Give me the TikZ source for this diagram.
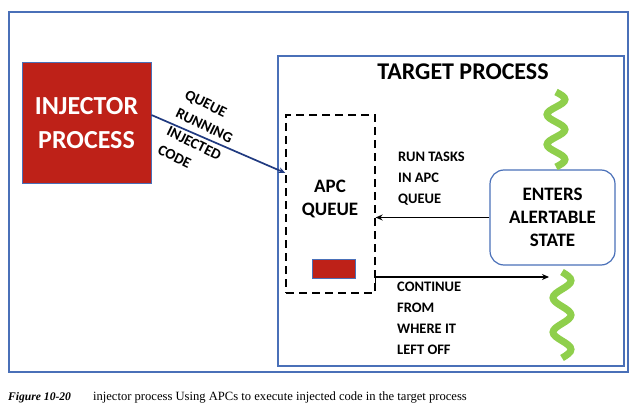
\documentclass[tikz,border=0pt]{standalone}
\usepackage{fontspec}
\setmainfont{Liberation Serif}
\newfontfamily\calib{Carlito}
\usetikzlibrary{arrows.meta}

\definecolor{frameblue}{HTML}{4A70B8}
\definecolor{injred}{HTML}{BE2118}
\definecolor{navyarrow}{HTML}{203A80}
\definecolor{wavegreen}{HTML}{8FCF4C}

\tikzset{
	bigtext/.style={font=\calib\bfseries\fontsize{19}{23}\selectfont, align=center},
	smalltext/.style={font=\calib\bfseries\fontsize{14.5}{21}\selectfont, align=left, inner sep=0},
	squiggle/.style={wavegreen, line width=7pt, line cap=butt},
	flow/.style={-{Stealth[length=7pt,width=6pt]}, line width=1.3pt},
}

\begin{document}
\begin{tikzpicture}[x=1pt, y=-1pt]
	\useasboundingbox (0,0) rectangle (637,417);
	
	% Outer frame and target process
	\draw [frameblue, line width=1.2pt] (9,12) rectangle (628,372);
	\node (target) at (451,211)
	      [ minimum width=346pt
	      , minimum height=310pt
	      , draw=frameblue
	      , line width=1.2pt
	      , rectangle]
	      {};
	\node (title) at (463,72)
	      [bigtext, font=\calib\bfseries\fontsize{24}{26}\selectfont]
	      {TARGET PROCESS};
	
	% Injector
	\node (injector) at (86.5,123)
	      [ minimum width=129pt
	      , minimum height=120pt
	      , fill=injred
	      , draw=frameblue
	      , line width=1pt
	      , text=white
	      , font=\calib\bfseries\fontsize{26}{34}\selectfont
	      , align=center]
	      {INJECTOR\\PROCESS};
	
	% APC queue
	\node (queue) at (330.5,204)
	      [ minimum width=89pt
	      , minimum height=178pt
	      , draw
	      , dash pattern=on 8pt off 5pt
	      , line width=1.3pt]
	      {};
	\node (queuetxt) at (330,199) [bigtext] {APC\\QUEUE};
	\node (apc) at (333.5,268.5)
	      [ minimum width=43pt
	      , minimum height=19pt
	      , inner sep=0
	      , fill=injred
	      , draw=frameblue
	      , line width=0.8pt]
	      {};
	
	% Alertable state
	\node (alert) at (552.5,217.5)
	      [ minimum width=125pt
	      , minimum height=95pt
	      , draw=frameblue
	      , line width=1.2pt
	      , rounded corners=14pt
	      , bigtext]
	      {ENTERS\\ALERTABLE\\STATE};
	
	% Thread squiggles
	\foreach \xc/\ya/\yb in {556/92/167, 562/272/358}{
		\draw [squiggle] plot [smooth, domain=0:1, samples=41]
		      ({\xc + 9*sin(900*\x)}, {\ya + (\yb-\ya)*\x});
	}
	\coordinate (resume) at (549,277);
	
	% Connectors
	\draw [flow, navyarrow, line width=1.7pt] (injector.east |- 0,115) -- (queue.west |- 0,173);
	\node (qlabel) at (188,89)
	      [ smalltext
	      , anchor=north west
	      , rotate=-26
	      , font=\calib\bfseries\fontsize{15}{20.5}\selectfont]
	      {QUEUE\\RUNNING\\INJECTED\\CODE};
	\draw [flow] (alert.west) -- (queue.east |- alert.west);
	\node (runlabel) at (398,152) [smalltext, anchor=north west] {RUN TASKS\\IN APC\\QUEUE};
	\draw [flow] (queue.east |- 0,284) |- (resume);
	\node (contlabel) at (397,282) [smalltext, anchor=north west] {CONTINUE\\FROM\\WHERE IT\\LEFT OFF};
	
	% Caption
	\node (caption) at (8,397)
	      [ anchor=west
	      , inner sep=0
	      , font=\fontsize{12.6}{14}\selectfont]
	      {{\fontsize{11.6}{15}\selectfont\bfseries\itshape Figure 10-20}\hspace{22pt}injector process Using APCs to execute injected code in the target process};
\end{tikzpicture}
\end{document}
